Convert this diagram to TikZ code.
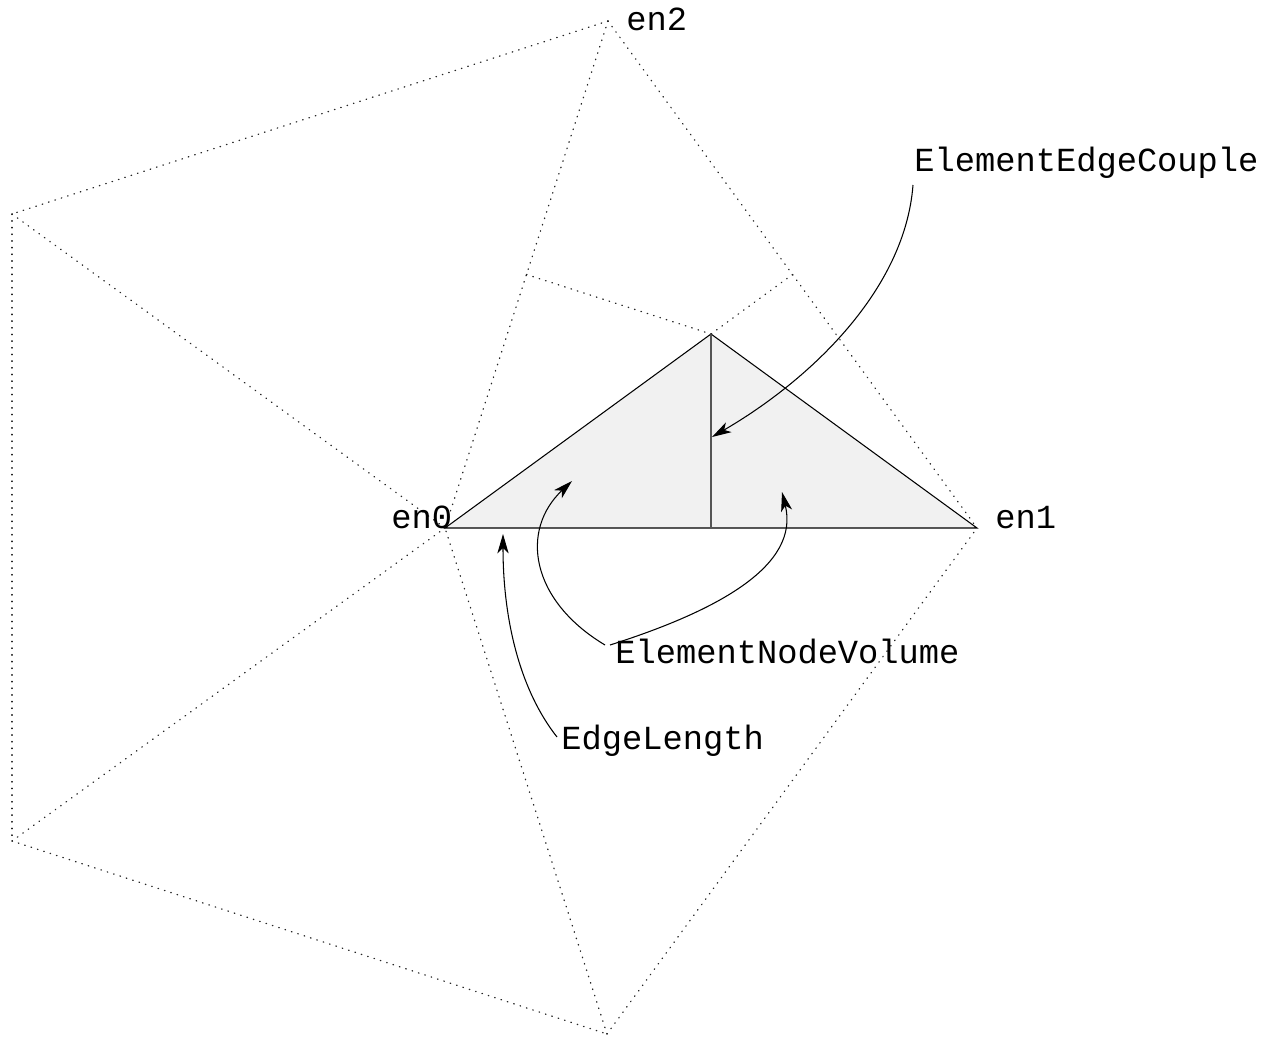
\documentclass[tikz,border=0pt]{standalone}
\usepackage{fontspec}
\setmonofont{Liberation Mono}
\usetikzlibrary{arrows.meta,calc}
\definecolor{fillgray}{RGB}{241,241,241}
\definecolor{midgray}{RGB}{85,85,85}
\begin{document}
\begin{tikzpicture}[x=0.02cm,y=-0.02cm,
  meshline/.style={line width=0.75pt, line cap=round, dash pattern=on 0.3pt off 3.5pt, black!85},
  solidline/.style={line width=0.6pt},
  pointer/.style={line width=0.6pt, -{Stealth[length=11pt,width=6.4pt,inset=3pt]}},
  lbl/.style={anchor=base west, inner sep=0pt, font=\ttfamily\fontsize{19.2}{22}\selectfont}]
\useasboundingbox (0,0) rectangle (1275,1038);
% mesh vertices
\coordinate (n2) at (608,21);
\coordinate (n0) at (445,528);
\coordinate (n1) at (977,528);
\coordinate (lt) at (12,214);
\coordinate (lb) at (12,841);
\coordinate (bt) at (607,1034);
\coordinate (cc) at (711,334);
\coordinate (m02) at ($(n0)!0.5!(n2)$);
\coordinate (m12) at ($(n1)!0.5!(n2)$);
\coordinate (m01) at (711,528);
% filled element part
\filldraw[solidline, fill=fillgray] (n0) -- (cc) -- (n1) -- cycle;
\draw[solidline, draw=midgray] (cc) -- (m01);
% dotted mesh
\draw[meshline] (n2) -- (n0);
\draw[meshline] (n2) -- (n1);
\draw[meshline] (n2) -- (lt);
\draw[meshline] (lt) -- (n0);
\draw[meshline] (lt) -- (lb);
\draw[meshline] (lb) -- (n0);
\draw[meshline] (lb) -- (bt);
\draw[meshline] (bt) -- (n0);
\draw[meshline] (bt) -- (n1);
\draw[meshline] (m02) -- (cc);
\draw[meshline] (m12) -- (cc);
% labels
\node[lbl] (len2) at (626,30) {en2};
\node[lbl] (len0) at (391,528) {en0};
\node[lbl] (len1) at (995,528) {en1};
\node[lbl] (lcouple) at (914,171) {ElementEdgeCouple};
\node[lbl] (lvolume) at (615,663) {ElementNodeVolume};
\node[lbl] (llength) at (561,749) {EdgeLength};
% pointer ends
\coordinate (sCouple) at (913,185);
\coordinate (tCouple) at (712,437);
\coordinate (sVolL) at (605,645);
\coordinate (tVolL) at (572,481);
\coordinate (sVolR) at (610,645);
\coordinate (tVolR) at (782,492);
\coordinate (sLen) at (557,737);
\coordinate (tLen) at (503,534);
\draw[pointer] (sCouple) .. controls (905,290) and (810,380) .. (tCouple);
\draw[pointer] (sVolL) .. controls (530,600) and (520,530) .. (tVolL);
\draw[pointer] (sVolR) .. controls (720,610) and (800,565) .. (tVolR);
\draw[pointer] (sLen) .. controls (520,690) and (503,620) .. (tLen);
\end{tikzpicture}
\end{document}
